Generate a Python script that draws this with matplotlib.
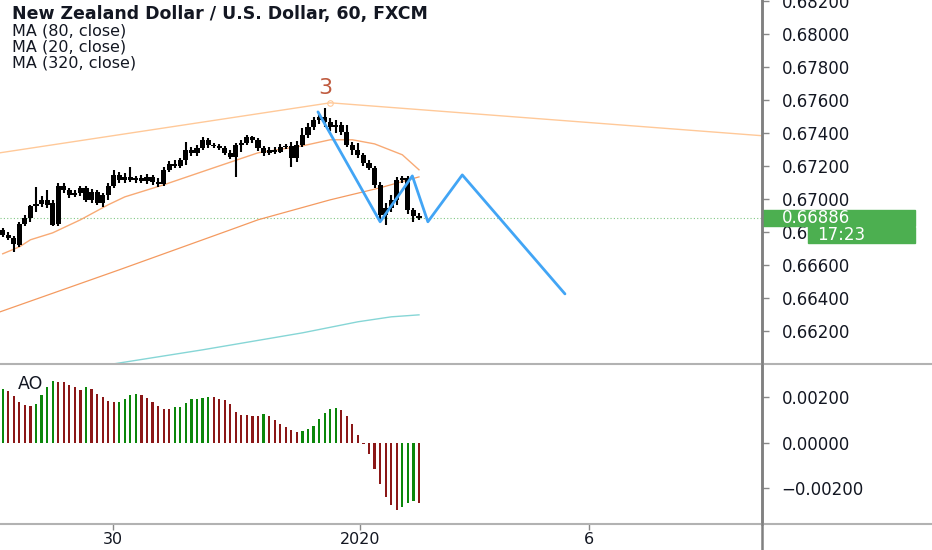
import numpy as np
import matplotlib.pyplot as plt
from matplotlib.lines import Line2D
from matplotlib.patches import Rectangle

# NZDUSD 60 min candles (FXCM)
opens = [0.66812, 0.66782, 0.66764, 0.66721, 0.66848, 0.66885, 0.66958, 0.66970, 0.66994, 0.66976,
         0.66848, 0.67079, 0.67055, 0.67024, 0.67036, 0.67067, 0.66994, 0.67042, 0.66976, 0.67024,
         0.67079, 0.67145, 0.67115, 0.67133, 0.67115, 0.67127, 0.67109, 0.67133, 0.67103, 0.67091,
         0.67176, 0.67212, 0.67200, 0.67236, 0.67297, 0.67279, 0.67309, 0.67358, 0.67327, 0.67321,
         0.67309, 0.67279, 0.67255, 0.67327, 0.67339, 0.67376, 0.67358, 0.67309, 0.67279, 0.67297,
         0.67285, 0.67315, 0.67321, 0.67248, 0.67327, 0.67388, 0.67436, 0.67479, 0.67497, 0.67467,
         0.67436, 0.67448, 0.67406, 0.67327, 0.67297, 0.67267, 0.67218, 0.67188, 0.67085, 0.66903,
         0.66945, 0.66994, 0.67115, 0.67127, 0.66933, 0.66897]
closes = [0.66782, 0.66764, 0.66727, 0.66848, 0.66885, 0.66958, 0.66970, 0.66994, 0.66964, 0.66842,
          0.67079, 0.67055, 0.67024, 0.67036, 0.67067, 0.66994, 0.67042, 0.66976, 0.67024, 0.67079,
          0.67145, 0.67115, 0.67133, 0.67115, 0.67127, 0.67109, 0.67133, 0.67103, 0.67091, 0.67176,
          0.67212, 0.67200, 0.67236, 0.67297, 0.67279, 0.67309, 0.67358, 0.67327, 0.67321, 0.67309,
          0.67279, 0.67255, 0.67327, 0.67339, 0.67376, 0.67358, 0.67309, 0.67279, 0.67297, 0.67285,
          0.67315, 0.67321, 0.67248, 0.67327, 0.67388, 0.67436, 0.67479, 0.67497, 0.67467, 0.67436,
          0.67448, 0.67406, 0.67327, 0.67297, 0.67267, 0.67218, 0.67188, 0.67085, 0.66903, 0.66945,
          0.66994, 0.67115, 0.67127, 0.66933, 0.66897, 0.66886]
highs = [0.66824, 0.66800, 0.66776, 0.66861, 0.66903, 0.66964, 0.67073, 0.67018, 0.67055, 0.66994,
         0.67097, 0.67097, 0.67067, 0.67055, 0.67079, 0.67079, 0.67061, 0.67055, 0.67036, 0.67097,
         0.67176, 0.67164, 0.67158, 0.67194, 0.67139, 0.67145, 0.67152, 0.67145, 0.67127, 0.67194,
         0.67230, 0.67236, 0.67248, 0.67345, 0.67315, 0.67327, 0.67376, 0.67370, 0.67339, 0.67333,
         0.67321, 0.67297, 0.67339, 0.67358, 0.67388, 0.67382, 0.67370, 0.67321, 0.67315, 0.67315,
         0.67333, 0.67333, 0.67345, 0.67351, 0.67430, 0.67461, 0.67497, 0.67515, 0.67551, 0.67491,
         0.67479, 0.67467, 0.67448, 0.67345, 0.67339, 0.67279, 0.67236, 0.67200, 0.67103, 0.66976,
         0.67024, 0.67133, 0.67139, 0.67139, 0.66945, 0.66915]
lows = [0.66770, 0.66752, 0.66679, 0.66709, 0.66836, 0.66861, 0.66921, 0.66952, 0.66945, 0.66836,
        0.66836, 0.67036, 0.67006, 0.67012, 0.67018, 0.66982, 0.66976, 0.66964, 0.66952, 0.66994,
        0.67067, 0.67097, 0.67097, 0.67103, 0.67097, 0.67097, 0.67091, 0.67085, 0.67073, 0.67079,
        0.67164, 0.67188, 0.67188, 0.67206, 0.67261, 0.67261, 0.67297, 0.67309, 0.67309, 0.67297,
        0.67267, 0.67242, 0.67133, 0.67285, 0.67327, 0.67339, 0.67291, 0.67261, 0.67267, 0.67273,
        0.67279, 0.67303, 0.67194, 0.67224, 0.67315, 0.67370, 0.67418, 0.67455, 0.67436, 0.67412,
        0.67400, 0.67388, 0.67315, 0.67267, 0.67248, 0.67200, 0.67176, 0.67067, 0.66873, 0.66842,
        0.66921, 0.66964, 0.67097, 0.66909, 0.66861, 0.66873]

# moving averages (sampled at bar index)
ma20_idx = [0, 3, 5, 9, 14, 19, 22, 29, 38, 46, 54, 59, 63, 67, 72, 75]
ma20_val = [0.66667, 0.66709, 0.66752, 0.66794, 0.66873, 0.66964, 0.67012, 0.67085, 0.67188,
            0.67279, 0.67321, 0.67358, 0.67358, 0.67333, 0.67267, 0.67176]
ma80_idx = [-0.5, 21, 41, 46, 59, 68, 75]
ma80_val = [0.66315, 0.66570, 0.66812, 0.66873, 0.66994, 0.67067, 0.67133]
ma320_idx = [18, 20, 36, 54, 64, 70, 75]
ma320_val = [0.65985, 0.66000, 0.66085, 0.66188, 0.66255, 0.66285, 0.66297]

# drawings
trend_idx = [-0.5, 59, 137]
trend_val = [0.67279, 0.67582, 0.67382]
zigzag_idx = [56.8, 68.0, 73.8, 76.6, 82.8, 101.3]
zigzag_val = [0.67527, 0.66861, 0.67139, 0.66861, 0.67145, 0.66424]
wave_label = '3'
wave_pos = (58.2, 0.67673)

# Awesome Oscillator
ao = [0.00235, 0.00227, 0.00208, 0.00180, 0.00168, 0.00163, 0.00172, 0.00210, 0.00248, 0.00272,
      0.00268, 0.00266, 0.00255, 0.00246, 0.00234, 0.00246, 0.00237, 0.00216, 0.00200, 0.00185,
      0.00179, 0.00180, 0.00193, 0.00209, 0.00216, 0.00209, 0.00197, 0.00179, 0.00160, 0.00150,
      0.00147, 0.00156, 0.00159, 0.00176, 0.00193, 0.00194, 0.00196, 0.00201, 0.00200, 0.00193,
      0.00187, 0.00170, 0.00136, 0.00124, 0.00121, 0.00120, 0.00119, 0.00126, 0.00120, 0.00099,
      0.00083, 0.00070, 0.00056, 0.00049, 0.00053, 0.00062, 0.00074, 0.00104, 0.00133, 0.00150,
      0.00154, 0.00145, 0.00120, 0.00083, 0.00036, -0.00005, -0.00052, -0.00115, -0.00184, -0.00241,
      -0.00275, -0.00295, -0.00286, -0.00266, -0.00259, -0.00266]

time_ticks = [19.9, 64.4, 105.6]
time_labels = ['30', '2020', '6']
price_ticks = np.arange(0.662, 0.6821, 0.002)
ao_ticks = [-0.002, 0.0, 0.002]
countdown = '17:23'

W, H = 932, 550
fig = plt.figure(figsize=(W / 100, H / 100), dpi=100)
plt.rcParams['font.family'] = 'DejaVu Sans'

x_right = 762 / W
y_mid = (H - 363.7) / H
y_bot = (H - 524.4) / H
ax = fig.add_axes([0, y_mid, x_right, 1 - y_mid])
ax2 = fig.add_axes([0, y_bot, x_right, y_mid - y_bot], sharex=ax)

x = np.arange(len(closes))
o = np.array(opens)
c = np.array(closes)
body_lo = np.minimum(o, c)
body_h = np.maximum(np.abs(c - o), 0.00004)

ax.vlines(x, lows, highs, color='black', lw=1.5, zorder=3)
ax.bar(x, body_h, bottom=body_lo, width=0.92, color='black', zorder=3)

ax.plot(trend_idx, trend_val, color='#ffc999', lw=1.0, zorder=2)
ax.plot(trend_idx[1], trend_val[1], 'o', ms=4, mfc='none', mec='#ffc999', mew=0.8, zorder=2)
ax.plot(ma20_idx, ma20_val, color='#f8aa75', lw=1.0, zorder=2)
ax.plot(ma80_idx, ma80_val, color='#f49a60', lw=0.9, zorder=2)
ax.plot(ma320_idx, ma320_val, color='#86d6d6', lw=1.0, zorder=2)
ax.plot(zigzag_idx, zigzag_val, color='#42a5f5', lw=2.0, zorder=4, solid_capstyle='round')
ax.text(wave_pos[0], wave_pos[1], wave_label, color='#bf5a3e', fontsize=16,
        ha='center', va='center')

ax.axhline(closes[-1], color='#4caf50', lw=0.8, ls=(0, (1, 2)), alpha=0.7, zorder=1)

ax.set_xlim(-0.49, 136.8)
ax.set_ylim(0.66001, 0.68205)
ax.set_yticks(price_ticks)
ax.set_yticklabels([f'{v:.5f}' for v in price_ticks])

# AO histogram
ao_colors = ['#0b870b' if i == 0 or v > ao[i - 1] else '#8b1717' for i, v in enumerate(ao)]
ax2.bar(x, ao, width=0.4, color=ao_colors, zorder=3)
ax2.set_ylim(-0.003607, 0.003488)
ax2.set_yticks(ao_ticks)
ax2.set_yticklabels(['\u22120.00200', '0.00000', '0.00200'])
ax2.text(0.024, 0.84, 'AO', transform=ax2.transAxes, fontsize=12.5, color='#131722')

ax2.set_xticks(time_ticks)
ax2.set_xticklabels(time_labels)

for a in (ax, ax2):
    for s in ('top', 'left', 'bottom'):
        a.spines[s].set_visible(False)
    a.spines['right'].set_color('#808080')
    a.spines['right'].set_linewidth(1.8)
    a.yaxis.tick_right()
    a.tick_params(axis='y', length=5, width=1, color='#888888', pad=9,
                  labelsize=12, labelcolor='#131722')
    a.set_facecolor('white')
ax.tick_params(axis='x', bottom=False, labelbottom=False)
ax2.tick_params(axis='x', length=4, width=1, color='#888888', pad=1.5,
                labelsize=11.5, labelcolor='#131722')

# pane separators and scale border
fig.add_artist(Line2D([0, 1], [y_mid, y_mid], color='#b2b2b2', lw=1.5))
fig.add_artist(Line2D([0, 1], [y_bot, y_bot], color='#b2b2b2', lw=1.5))
fig.add_artist(Line2D([x_right, x_right], [0, 1], color='#808080', lw=1.8))

# last price and countdown labels
box_h = 0.00097
tr = ax.get_yaxis_transform()
ax.add_patch(Rectangle((1.0, closes[-1] - box_h / 2), 153 / 762, box_h, transform=tr,
                       color='#4caf50', clip_on=False, zorder=6))
ax.text(1.026, closes[-1], f'{closes[-1]:.5f}', transform=tr, color='white', fontsize=12,
        va='center', ha='left', clip_on=False, zorder=7)
ax.add_patch(Rectangle((46 / 762 + 1.0, closes[-1] - box_h * 1.6), 107 / 762, box_h, transform=tr,
                       color='#4caf50', clip_on=False, zorder=6))
ax.text(1.072, closes[-1] - box_h * 1.1, countdown, transform=tr, color='white', fontsize=12,
        va='center', ha='left', clip_on=False, zorder=7)

# header
fig.text(12 / W, 1 - 14 / H, 'New Zealand Dollar / U.S. Dollar, 60, FXCM', fontsize=12.5,
         fontweight='bold', va='center', ha='left', color='#131722')
for k, lab in enumerate(['MA (80, close)', 'MA (20, close)', 'MA (320, close)']):
    fig.text(12 / W, 1 - (31 + 16 * k) / H, lab, fontsize=11.5, va='center', ha='left',
             color='#131722')

fig.savefig('out.png', dpi=100)
